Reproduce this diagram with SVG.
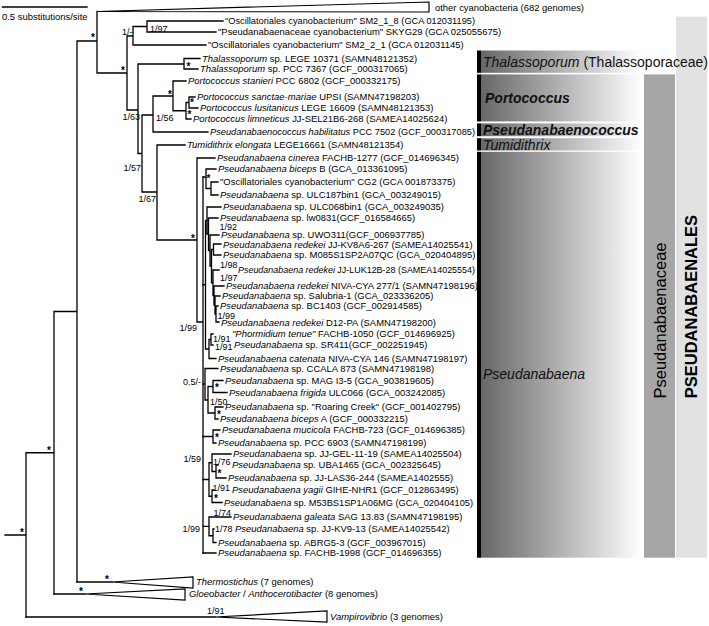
<svg xmlns="http://www.w3.org/2000/svg" width="709" height="626" viewBox="0 0 709 626">
<defs>
<linearGradient id="grad" gradientUnits="userSpaceOnUse" x1="481" y1="0" x2="642" y2="0">
<stop offset="0" stop-color="#676767"/><stop offset="1" stop-color="#ffffff"/>
</linearGradient>
<style>
.br{fill:none;stroke:#000;stroke-width:1.3;stroke-linecap:square}
.tri{fill:#fff;stroke:#000;stroke-width:1.2}
text{font-family:"Liberation Sans",Arial,Helvetica,sans-serif;fill:#000}
.t{font-size:9.45px}
.s{font-size:9px}
.e{text-anchor:end}
.st{font-size:10px;font-weight:bold;text-anchor:middle}
.i{font-style:italic}
.band{fill:url(#grad)}
.cl{font-size:14px;fill:#111}
</style>
</defs>
<rect width="709" height="626" fill="#fff"/>
<g id="panels">
<rect x="676" y="16.7" width="31" height="541" fill="#e2e2e2"/>
<rect x="644" y="74.4" width="31" height="483.3" fill="#a6a6a6"/>
<rect class="band" x="481" y="50.5" width="161" height="22.3"/><rect x="477" y="50.5" width="4" height="22.3"/>
<rect class="band" x="481" y="74.4" width="161" height="47"/><rect x="477" y="74.4" width="4" height="47"/>
<rect class="band" x="481" y="123.4" width="161" height="12.8"/><rect x="477" y="123.4" width="4" height="12.8"/>
<rect class="band" x="481" y="138.2" width="161" height="12.3"/><rect x="477" y="138.2" width="4" height="12.3"/>
<rect class="band" x="481" y="151.8" width="161" height="405.9"/><rect x="477" y="151.8" width="4" height="405.9"/>
<text class="cl" x="483" y="66.5"><tspan class="i">Thalassoporum</tspan> (Thalassoporaceae)</text>
<text class="cl" x="485" y="102.5" font-weight="bold" font-style="italic">Portococcus</text>
<text class="cl" x="483" y="135" font-weight="bold" font-style="italic">Pseudanabaenococcus</text>
<text class="cl" x="483" y="150" font-size="13.5" font-style="italic">Tumidithrix</text>
<text class="cl" x="483" y="379" font-style="italic">Pseudanabaena</text>
<text transform="translate(666,320.5) rotate(-90)" text-anchor="middle" font-size="16.5">Pseudanabaenaceae</text>
<text transform="translate(696.5,306.6) rotate(-90)" text-anchor="middle" font-size="16.5" font-weight="bold">PSEUDANABAENALES</text>
</g>
<g id="scale">
<path class="br" d="M2.5,7H87"/>
<text class="t" x="2" y="19.5">0.5 substitutions/site</text>
</g>
<g id="branches">
<path class="br" d="M5,535H26M26,452.75V617M26,452.75H54M54,311.5V594M54,311.5H77M77,41V582M77,41H97M97,11.5V73M97,73H127M127,36V110M127,36H133M133,26.5V45M133,26.5H147M147,21V32M147,21H223M147,32H216M133,45H206M127,110H138M138,64V153.5M138,64H184M184,58.5V69M184,58.5H200M184,69H198M138,153.5H142M142,115V192M142,115H153M153,96V132M153,96H173M173,81V110.75M173,81H186M173,110.75H186M186,102.5V119M186,102.5H189M189,97V108M189,97H195M189,108H198M186,119H191M153,132H208M142,192H157M157,145V240M157,145H185M157,240H197M197,158V322M197,158H215M197,322H203M203,177V553"/>
<path class="br" d="M203,177H206M206,169V188.5M206,169H216M206,188.5H211M211,182V195M211,182H218M211,195H218M203,284.75H205.5M205.5,220.5V349M205.5,220.5H207M207,207V234M207,207H221M207,234H208.5M208.5,218V250.5M208.5,218H218M208.5,250.5H210M210,235V266M210,235H219M210,266H211.5M211.5,249.5V282.75M211.5,249.5H213.5M213.5,244V255M213.5,244H221M213.5,255H221M211.5,282.75H213M213,270V295.5M213,270H219M213,295.5H214M214,286V305M214,286H224M214,305H215M215,296V314M215,296H220M215,314H216M216,306V322M216,306H218M216,322H219M205.5,349H209M209,339.5V358.5M209,339.5H211M211,334V345M211,334H213M211,345H213M209,358.5H216"/>
<path class="br" d="M203,384H205M205,368.5V400M205,368.5H218M205,400H208M208,386.5V413M208,386.5H213M213,380.5V392.5M213,380.5H223M213,392.5H227M208,413H215M215,407V419M215,407H223M215,419H218M203,436.5H213M213,430V443M213,430H220M213,443H216M203,479.5H209M209,462.75V496.25M209,462.75H212M212,454V471.5M212,454H231M212,471.5H216M216,465V478M216,465H218M216,478H226M209,496.25H212M212,490V502.5M212,490H214M212,502.5H222M203,526.4H209M209,517V535.75M209,517H231M209,535.75H213M213,529V542.5M213,529H214M213,542.5H216M203,553H216"/>
<path class="br" d="M77,582H112M54,594H85M26,617H215"/>
<polygon class="tri" points="97,11.5 429,2 429,12"/>
<polygon class="tri" points="112,582 193,577 193,588"/>
<polygon class="tri" points="85,594 185,589 185,600"/>
<polygon class="tri" points="215,617 327,611 327,622"/>
</g>
<g id="support">
<text class="st" x="22" y="535.8">*</text>
<text class="st" x="49" y="453.8">*</text>
<text class="st" x="93" y="40.8">*</text>
<text class="st" x="123" y="73.8">*</text>
<text class="st" x="188.5" y="69.8">*</text>
<text class="st" x="170" y="97.8">*</text>
<text class="st" x="192" y="105.8">*</text>
<text class="st" x="189.5" y="118.3">*</text>
<text class="st" x="193" y="241.8">*</text>
<text class="st" x="208.5" y="181.8">*</text>
<text class="st" x="217" y="390.8">*</text>
<text class="st" x="219" y="417.8">*</text>
<text class="st" x="217" y="441.3">*</text>
<text class="st" x="219.5" y="476.8">*</text>
<text class="st" x="216" y="501.8">*</text>
<text class="st" x="107" y="582.8">*</text>
<text class="st" x="81" y="594.8">*</text>
<text class="s e" x="132.5" y="35">1/-</text>
<text class="s" x="150" y="31.5">1/97</text>
<text class="s e" x="140" y="120">1/63</text>
<text class="s" x="156" y="121">1/56</text>
<text class="s e" x="141" y="171">1/57</text>
<text class="s e" x="156" y="201.5">1/67</text>
<text class="s e" x="197" y="331">1/99</text>
<text class="s" x="219.5" y="229.5">1/92</text>
<text class="s" x="220" y="267.5">1/98</text>
<text class="s" x="220" y="281">1/97</text>
<text class="s" x="217.5" y="319">1/99</text>
<text class="s" x="213" y="341.5">1/91</text>
<text class="s" x="215" y="350">1/91</text>
<text class="s e" x="201" y="385">0.5/-</text>
<text class="s" x="210" y="404.5">1/50</text>
<text class="s e" x="201" y="461.5">1/59</text>
<text class="s" x="213" y="465">1/76</text>
<text class="s" x="212.5" y="491">1/91</text>
<text class="s" x="213.5" y="516">1/74</text>
<text class="s" x="215" y="531.5">1/78</text>
<text class="s e" x="200" y="531.5">1/99</text>
<text class="s" x="207" y="614">1/91</text>
</g>
<g id="tips">
<g id="n-other"><text class="t" x="435" y="10.5">other cyanobacteria (682 genomes)</text></g>
<g id="n-sm218"><text class="t" x="225" y="24.4" textLength="250" lengthAdjust="spacingAndGlyphs">"Oscillatoriales cyanobacterium" SM2_1_8 (GCA 012031195)</text></g>
<g id="n-skyg29"><text class="t" x="218" y="35.4">"Pseudanabaenaceae cyanobacterium" SKYG29 (GCA 025055675)</text></g>
<g id="n-sm221"><text class="t" x="208" y="48.4">"Oscillatoriales cyanobacterium" SM2_2_1 (GCA 012031145)</text></g>
<g id="n-thal1"><text class="t" x="202" y="61.9"><tspan class="i">Thalassoporum</tspan> sp. LEGE 10371 (SAMN48121352)</text></g>
<g id="n-thal2"><text class="t" x="200" y="72.4"><tspan class="i">Thalassoporum</tspan> sp. PCC 7367 (GCF_000317065)</text></g>
<g id="n-port1"><text class="t" x="188" y="84.4"><tspan class="i">Portococcus stanieri</tspan> PCC 6802 (GCF_000332175)</text></g>
<g id="n-port2"><text class="t" x="197" y="100.4"><tspan class="i">Portococcus sanctae-mariae</tspan> UPSI (SAMN47198203)</text></g>
<g id="n-port3"><text class="t" x="200" y="111.4"><tspan class="i">Portococcus lusitanicus</tspan> LEGE 16609 (SAMN48121353)</text></g>
<g id="n-port4"><text class="t" x="193" y="122.4"><tspan class="i">Portococcus limneticus</tspan> JJ-SEL21B6-268 (SAMEA14025624)</text></g>
<g id="n-psc"><text class="t" x="210" y="135.4" textLength="265" lengthAdjust="spacingAndGlyphs"><tspan class="i">Pseudanabaenococcus habilitatus</tspan> PCC 7502 (GCF_000317085)</text></g>
<g id="n-tum"><text class="t" x="187" y="148.4"><tspan class="i">Tumidithrix elongata</tspan> LEGE16661 (SAMN48121354)</text></g>
<g id="n-p1"><text class="t" x="217" y="161.4"><tspan class="i">Pseudanabaena cinerea</tspan> FACHB-1277 (GCF_014696345)</text></g>
<g id="n-p2"><text class="t" x="218" y="172.4"><tspan class="i">Pseudanabaena biceps</tspan> B (GCA_013361095)</text></g>
<g id="n-p3"><text class="t" x="220" y="185.4">"Oscillatoriales cyanobacterium" CG2 (GCA 001873375)</text></g>
<g id="n-p4"><text class="t" x="220" y="198.4"><tspan class="i">Pseudanabaena</tspan> sp. ULC187bin1 (GCA_003249015)</text></g>
<g id="n-p5"><text class="t" x="223" y="210.4"><tspan class="i">Pseudanabaena</tspan> sp. ULC068bin1 (GCA_003249035)</text></g>
<g id="n-p6"><text class="t" x="220" y="221.4"><tspan class="i">Pseudanabaena</tspan> sp. lw0831(GCF_016584665)</text></g>
<g id="n-p7"><text class="t" x="221" y="238.4"><tspan class="i">Pseudanabaena</tspan> sp. UWO311(GCF_006937785)</text></g>
<g id="n-p8"><text class="t" x="223" y="247.6"><tspan class="i">Pseudanabaena redekei</tspan> JJ-KV8A6-267 (SAMEA14025541)</text></g>
<g id="n-p9"><text class="t" x="223" y="258.4"><tspan class="i">Pseudanabaena</tspan> sp. M085S1SP2A07QC (GCA_020404895)</text></g>
<g id="n-p10"><text class="t" x="238" y="273.4" textLength="237" lengthAdjust="spacingAndGlyphs"><tspan class="i">Pseudanabaena redekei</tspan> JJ-LUK12B-28 (SAMEA14025554)</text></g>
<g id="n-p11"><text class="t" x="226" y="289.4"><tspan class="i">Pseudanabaena redekei</tspan> NIVA-CYA 277/1 (SAMN47198196)</text></g>
<g id="n-p12"><text class="t" x="222" y="299.4"><tspan class="i">Pseudanabaena</tspan> sp. Salubria-1 (GCA_023336205)</text></g>
<g id="n-p13"><text class="t" x="220" y="309.4"><tspan class="i">Pseudanabaena</tspan> sp. BC1403 (GCF_002914585)</text></g>
<g id="n-p14"><text class="t" x="221" y="325.6"><tspan class="i">Pseudanabaena redekei</tspan> D12-PA (SAMN47198200)</text></g>
<g id="n-p15"><text class="t" x="232" y="337.4"><tspan class="i">"Phormidium tenue"</tspan> FACHB-1050 (GCF_014696925)</text></g>
<g id="n-p16"><text class="t" x="234" y="348.4"><tspan class="i">Pseudanabaena</tspan> sp. SR411(GCF_002251945)</text></g>
<g id="n-p17"><text class="t" x="218" y="361.9"><tspan class="i">Pseudanabaena catenata</tspan> NIVA-CYA 146 (SAMN47198197)</text></g>
<g id="n-p18"><text class="t" x="220" y="371.9"><tspan class="i">Pseudanabaena</tspan> sp. CCALA 873 (SAMN47198198)</text></g>
<g id="n-p19"><text class="t" x="225" y="383.9"><tspan class="i">Pseudanabaena</tspan> sp. MAG I3-5 (GCA_903819605)</text></g>
<g id="n-p20"><text class="t" x="229" y="395.9"><tspan class="i">Pseudanabaena frigida</tspan> ULC066 (GCA_003242085)</text></g>
<g id="n-p21"><text class="t" x="225" y="410.4"><tspan class="i">Pseudanabaena</tspan> sp. "Roaring Creek" (GCF_001402795)</text></g>
<g id="n-p22"><text class="t" x="220" y="422.4"><tspan class="i">Pseudanabaena biceps</tspan> A (GCF_000332215)</text></g>
<g id="n-p23"><text class="t" x="222" y="433.4"><tspan class="i">Pseudanabaena mucicola</tspan> FACHB-723 (GCF_014696385)</text></g>
<g id="n-p24"><text class="t" x="218" y="446.4"><tspan class="i">Pseudanabaena</tspan> sp. PCC 6903 (SAMN47198199)</text></g>
<g id="n-p25"><text class="t" x="233" y="457.4"><tspan class="i">Pseudanabaena</tspan> sp. JJ-GEL-11-19 (SAMEA14025504)</text></g>
<g id="n-p26"><text class="t" x="232" y="468.4"><tspan class="i">Pseudanabaena</tspan> sp. UBA1465 (GCA_002325645)</text></g>
<g id="n-p27"><text class="t" x="228" y="481.4"><tspan class="i">Pseudanabaena</tspan> sp. JJ-LAS36-244 (SAMEA1402555)</text></g>
<g id="n-p28"><text class="t" x="232" y="493.4"><tspan class="i">Pseudanabaena yagii</tspan> GIHE-NHR1 (GCF_012863495)</text></g>
<g id="n-p29"><text class="t" x="224" y="505.9" textLength="249" lengthAdjust="spacingAndGlyphs"><tspan class="i">Pseudanabaena</tspan> sp. M53BS1SP1A06MG (GCA_020404105)</text></g>
<g id="n-p30"><text class="t" x="233" y="520.4"><tspan class="i">Pseudanabaena galeata</tspan> SAG 13.83 (SAMN47198195)</text></g>
<g id="n-p31"><text class="t" x="235" y="532.4"><tspan class="i">Pseudanabaena</tspan> sp. JJ-KV9-13 (SAMEA14025542)</text></g>
<g id="n-p32"><text class="t" x="218" y="545.9"><tspan class="i">Pseudanabaena</tspan> sp. ABRG5-3 (GCF_003967015)</text></g>
<g id="n-p33"><text class="t" x="218" y="556.4"><tspan class="i">Pseudanabaena</tspan> sp. FACHB-1998 (GCF_014696355)</text></g>
<g id="n-thermo"><text class="t" x="196" y="585.4"><tspan class="i">Thermostichus</tspan> (7 genomes)</text></g>
<g id="n-gloeo"><text class="t" x="189" y="597.4"><tspan class="i">Gloeobacter</tspan> / <tspan class="i">Anthocerotibacter</tspan> (8 genomes)</text></g>
<g id="n-vampiro"><text class="t" x="330" y="620.4"><tspan class="i">Vampirovibrio</tspan> (3 genomes)</text></g>
</g>
</svg>
